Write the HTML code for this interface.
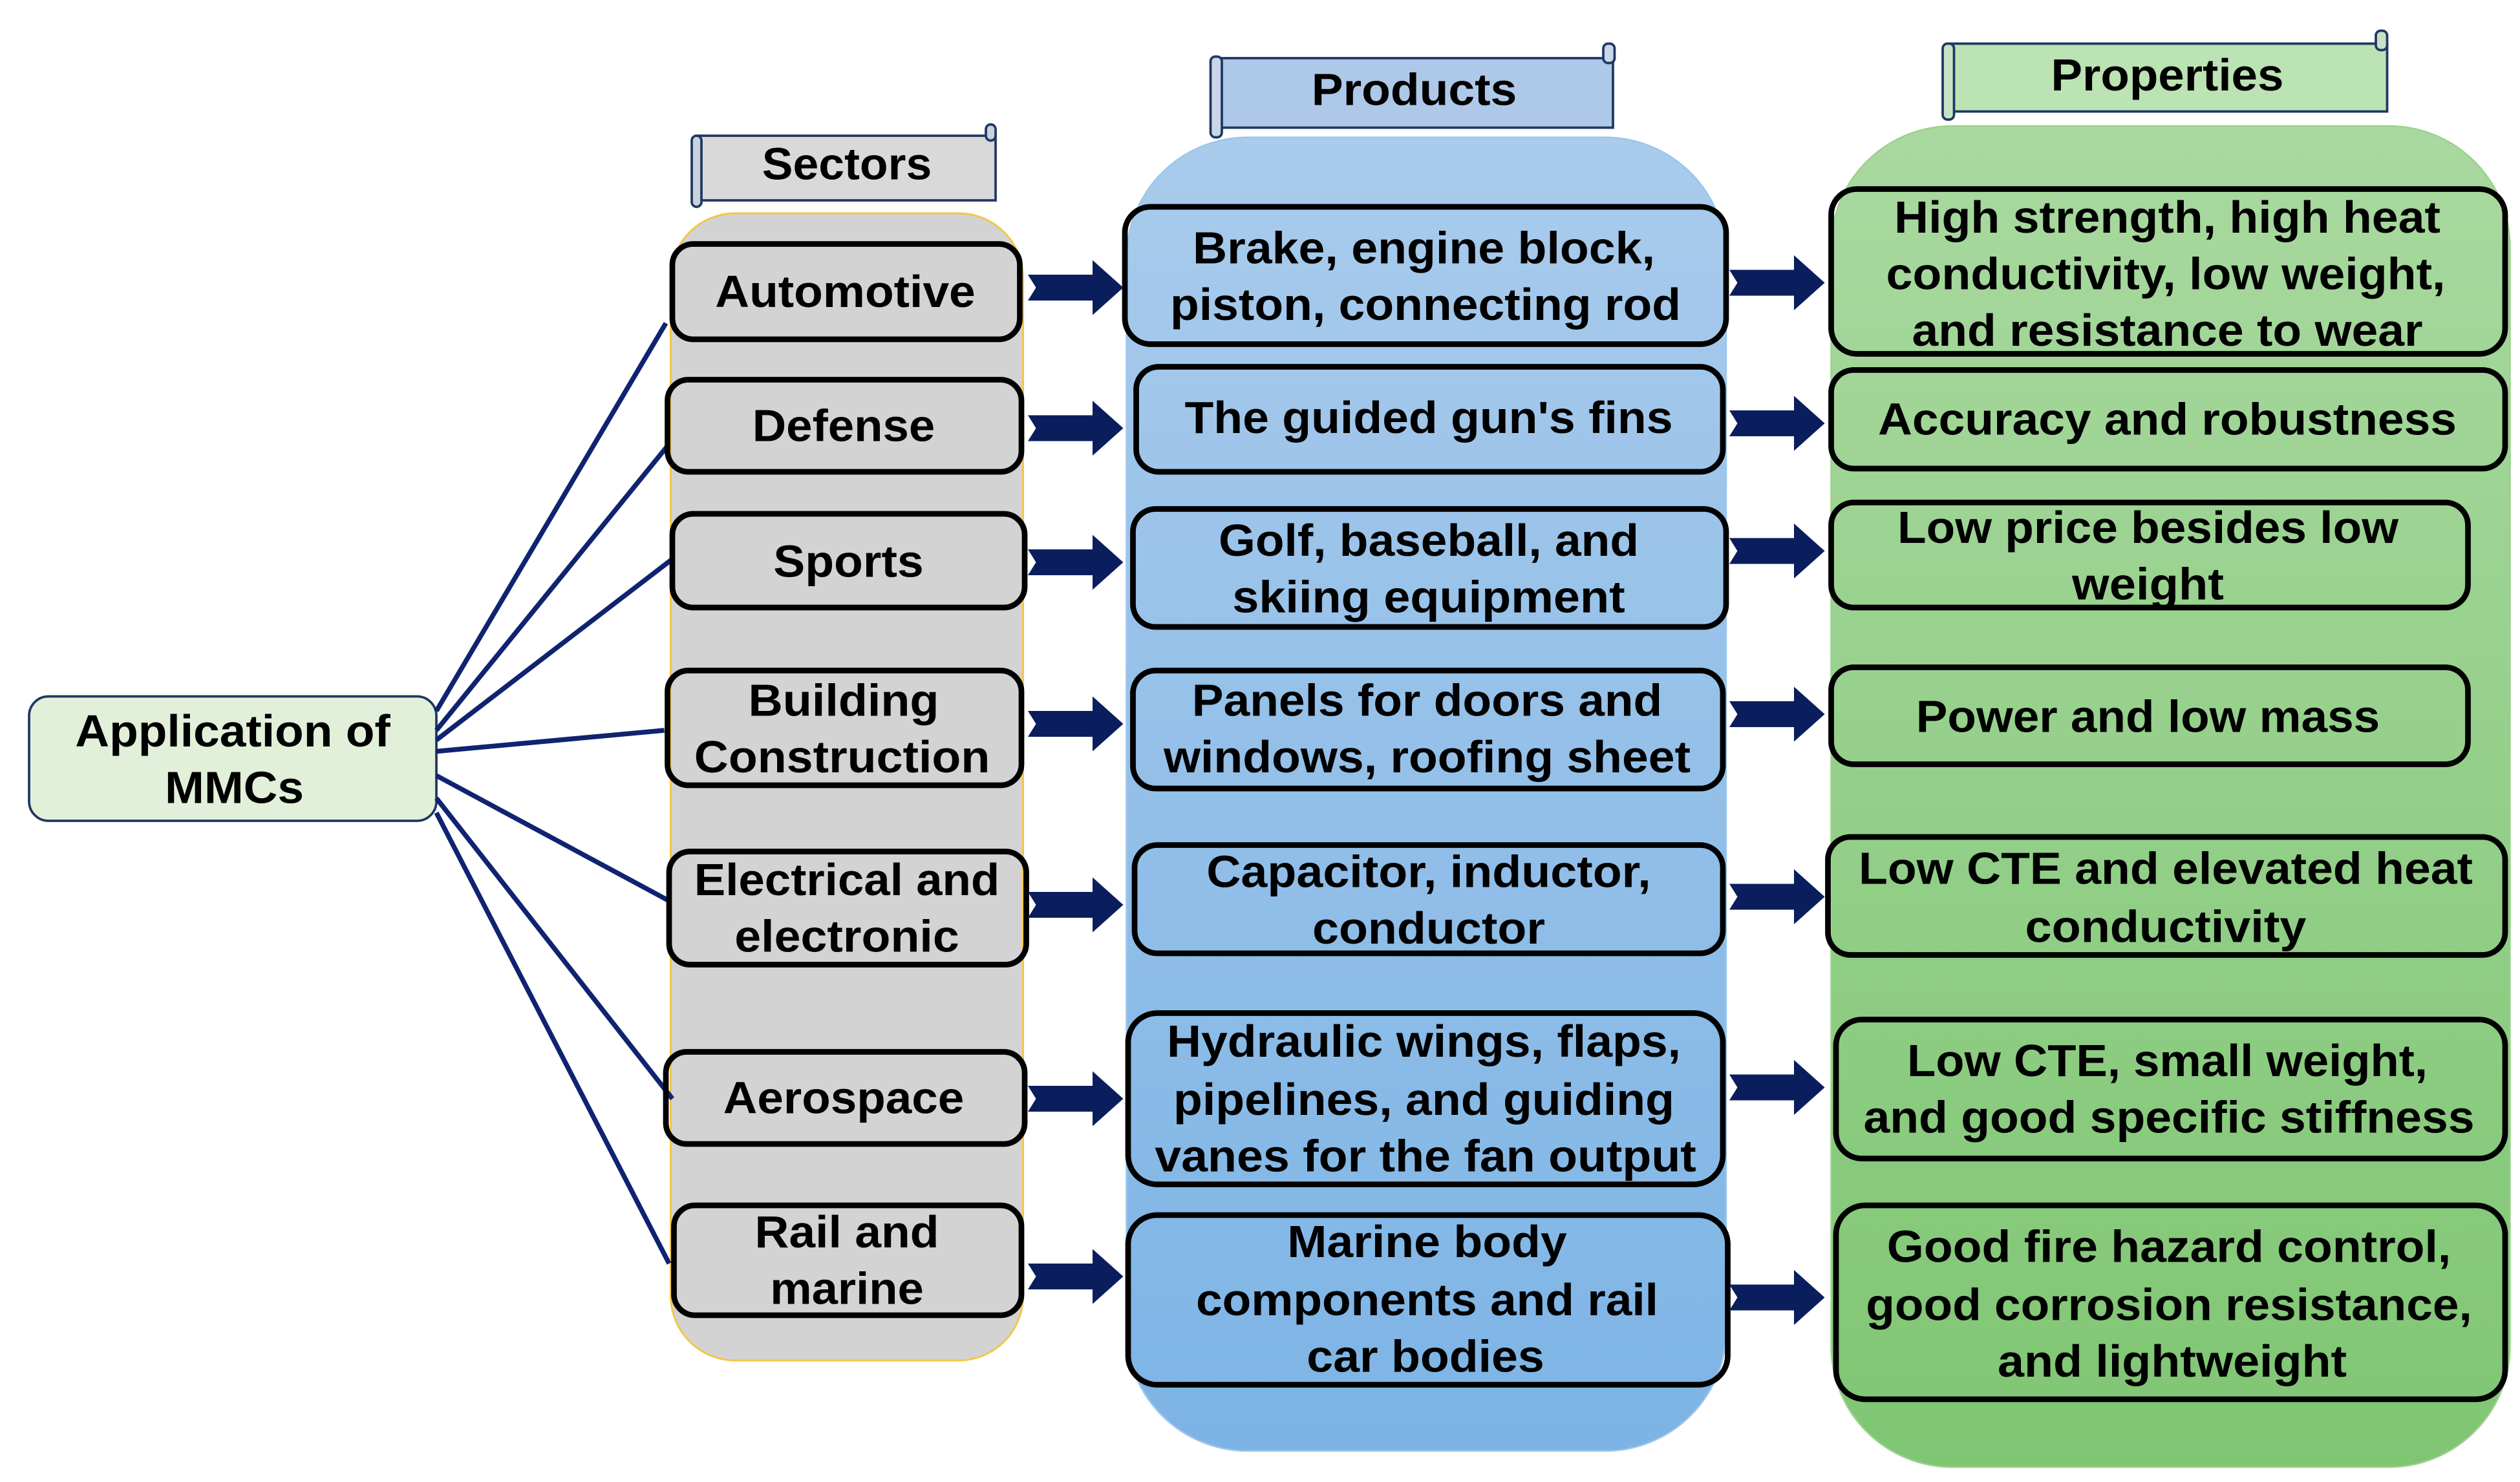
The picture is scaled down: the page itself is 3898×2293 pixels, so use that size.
<!DOCTYPE html>
<html><head><meta charset="utf-8"><style>html,body{margin:0;padding:0;background:#fff}svg{display:block}</style></head>
<body>
<svg xmlns="http://www.w3.org/2000/svg" width="3898" height="2293" viewBox="0 0 1559.2 917.2">
<defs>
<linearGradient id="gb" x1="0" y1="0" x2="0" y2="1"><stop offset="0" stop-color="#a9cbec"/><stop offset="1" stop-color="#7db4e5"/></linearGradient>
<linearGradient id="gg" x1="0" y1="0" x2="0" y2="1"><stop offset="0" stop-color="#a9d9a0"/><stop offset="1" stop-color="#7fc673"/></linearGradient>
<g id="arr"><path d="M0,-8 L40,-8 L40,-17 L59,0 L40,17 L40,8 L0,8 L5,0 Z" fill="#0a1e5e"/></g>
</defs>
<!-- columns -->
<rect x="415" y="132" width="218" height="710" rx="40" fill="#d3d3d3" stroke="#f3c64a" stroke-width="1.2"/>
<rect x="697" y="85" width="371" height="813" rx="75" fill="url(#gb)" stroke="#9cc6ea" stroke-width="1"/>
<rect x="1133" y="78" width="420" height="830" rx="75" fill="url(#gg)" stroke="#9ed08f" stroke-width="1"/>
<!-- banners -->
<g stroke="#203864" stroke-width="1.5">
<rect x="431" y="84" width="185" height="40" fill="#d9d9d9"/>
<rect x="428" y="84" width="6" height="44" rx="3" fill="#c8d2dc"/>
<rect x="610" y="77" width="6" height="10" rx="3" fill="#c8d2dc"/>
<rect x="752" y="36" width="246" height="43" fill="#aec8e8"/>
<rect x="749" y="35" width="7" height="50" rx="3" fill="#c8d6e8"/>
<rect x="992" y="27" width="7" height="12" rx="3" fill="#c8d6e8"/>
<rect x="1205" y="27" width="272" height="42" fill="#bce3b3"/>
<rect x="1202" y="27" width="7" height="47" rx="3" fill="#c8e2c4"/>
<rect x="1470" y="19" width="7" height="12" rx="3" fill="#c8e2c4"/>
</g>
<!-- root -->
<rect x="18" y="431" width="252" height="77" rx="12" fill="#e2f0d9" stroke="#203864" stroke-width="1.5"/>
<!-- connector lines -->
<g stroke="#0f2370" stroke-width="3" fill="none">
<line x1="270" y1="440" x2="412" y2="200"/>
<line x1="270" y1="452" x2="413" y2="276"/>
<line x1="270" y1="458" x2="416" y2="346"/>
<line x1="270" y1="465" x2="411" y2="452"/>
<line x1="270" y1="480" x2="413" y2="557"/>
<line x1="270" y1="494" x2="416" y2="680"/>
<line x1="270" y1="503" x2="414" y2="782"/>
</g>
<!-- boxes -->
<g fill="none" stroke="#000" stroke-width="3.5">
<rect x="416" y="151" width="215" height="59" rx="13"/>
<rect x="413" y="235" width="219" height="57" rx="13"/>
<rect x="416" y="318" width="218" height="58" rx="13"/>
<rect x="413" y="415" width="219" height="71" rx="13"/>
<rect x="414" y="527" width="221" height="70" rx="13"/>
<rect x="412" y="651" width="222" height="57" rx="13"/>
<rect x="417" y="746" width="215" height="68" rx="13"/>
<rect x="696" y="128" width="372" height="85" rx="16"/>
<rect x="703" y="227" width="363" height="65" rx="14"/>
<rect x="701" y="315" width="367" height="73" rx="14"/>
<rect x="701" y="415" width="365" height="73" rx="14"/>
<rect x="702" y="523" width="364" height="67" rx="14"/>
<rect x="698" y="627" width="368" height="106" rx="18"/>
<rect x="698" y="752" width="371" height="105" rx="18"/>
<rect x="1133" y="117" width="417" height="102" rx="16"/>
<rect x="1133" y="229" width="417" height="61" rx="14"/>
<rect x="1133" y="311" width="394" height="65" rx="14"/>
<rect x="1133" y="413" width="394" height="60" rx="14"/>
<rect x="1131" y="518" width="419" height="73" rx="14"/>
<rect x="1136" y="631" width="414" height="86" rx="16"/>
<rect x="1136" y="746" width="414" height="120" rx="18"/>
</g>
<!-- arrows -->
<use href="#arr" x="636" y="178"/><use href="#arr" x="636" y="265"/><use href="#arr" x="636" y="348"/>
<use href="#arr" x="636" y="448"/><use href="#arr" x="636" y="560"/><use href="#arr" x="636" y="680"/><use href="#arr" x="636" y="790"/>
<use href="#arr" x="1070" y="175"/><use href="#arr" x="1070" y="262"/><use href="#arr" x="1070" y="341"/>
<use href="#arr" x="1070" y="442"/><use href="#arr" x="1070" y="555"/><use href="#arr" x="1070" y="673"/><use href="#arr" x="1070" y="803"/>
<!-- text -->
<g font-family="Liberation Sans, Arial, sans-serif" font-weight="bold" font-size="28" fill="#000" text-anchor="middle" lengthAdjust="spacingAndGlyphs">
<text x="524" y="111" textLength="105" lengthAdjust="spacingAndGlyphs">Sectors</text>
<text x="875" y="65" textLength="127" lengthAdjust="spacingAndGlyphs">Products</text>
<text x="1341" y="56" textLength="144" lengthAdjust="spacingAndGlyphs">Properties</text>
<text x="144" y="462" textLength="195" lengthAdjust="spacingAndGlyphs">Application of</text>
<text x="145" y="497" textLength="86" lengthAdjust="spacingAndGlyphs">MMCs</text>

<text x="523" y="190" textLength="161" lengthAdjust="spacingAndGlyphs">Automotive</text>
<text x="522" y="273" textLength="113" lengthAdjust="spacingAndGlyphs">Defense</text>
<text x="525" y="357" textLength="93" lengthAdjust="spacingAndGlyphs">Sports</text>
<text x="522" y="443" textLength="118" lengthAdjust="spacingAndGlyphs">Building</text>
<text x="521" y="478" textLength="183" lengthAdjust="spacingAndGlyphs">Construction</text>
<text x="524" y="554" textLength="189" lengthAdjust="spacingAndGlyphs">Electrical and</text>
<text x="524" y="589" textLength="139" lengthAdjust="spacingAndGlyphs">electronic</text>
<text x="522" y="689" textLength="149" lengthAdjust="spacingAndGlyphs">Aerospace</text>
<text x="524" y="772" textLength="114" lengthAdjust="spacingAndGlyphs">Rail and</text>
<text x="524" y="807" textLength="95" lengthAdjust="spacingAndGlyphs">marine</text>

<text x="881" y="163" textLength="286" lengthAdjust="spacingAndGlyphs">Brake, engine block,</text>
<text x="882" y="198" textLength="316" lengthAdjust="spacingAndGlyphs">piston, connecting rod</text>
<text x="884" y="268" textLength="302" lengthAdjust="spacingAndGlyphs">The guided gun's fins</text>
<text x="884" y="344" textLength="260" lengthAdjust="spacingAndGlyphs">Golf, baseball, and</text>
<text x="884" y="379" textLength="243" lengthAdjust="spacingAndGlyphs">skiing equipment</text>
<text x="883" y="443" textLength="291" lengthAdjust="spacingAndGlyphs">Panels for doors and</text>
<text x="883" y="478" textLength="326" lengthAdjust="spacingAndGlyphs">windows, roofing sheet</text>
<text x="884" y="549" textLength="275" lengthAdjust="spacingAndGlyphs">Capacitor, inductor,</text>
<text x="884" y="584" textLength="144" lengthAdjust="spacingAndGlyphs">conductor</text>
<text x="881" y="654" textLength="318" lengthAdjust="spacingAndGlyphs">Hydraulic wings, flaps,</text>
<text x="881" y="690" textLength="310" lengthAdjust="spacingAndGlyphs">pipelines, and guiding</text>
<text x="882" y="725" textLength="335" lengthAdjust="spacingAndGlyphs">vanes for the fan output</text>
<text x="883" y="778" textLength="173" lengthAdjust="spacingAndGlyphs">Marine body</text>
<text x="883" y="814" textLength="286" lengthAdjust="spacingAndGlyphs">components and rail</text>
<text x="882" y="849" textLength="147" lengthAdjust="spacingAndGlyphs">car bodies</text>

<text x="1341" y="144" textLength="338" lengthAdjust="spacingAndGlyphs">High strength, high heat</text>
<text x="1340" y="179" textLength="346" lengthAdjust="spacingAndGlyphs">conductivity, low weight,</text>
<text x="1341" y="214" textLength="316" lengthAdjust="spacingAndGlyphs">and resistance to wear</text>
<text x="1341" y="269" textLength="358" lengthAdjust="spacingAndGlyphs">Accuracy and robustness</text>
<text x="1329" y="336" textLength="310" lengthAdjust="spacingAndGlyphs">Low price besides low</text>
<text x="1329" y="371" textLength="94" lengthAdjust="spacingAndGlyphs">weight</text>
<text x="1329" y="453" textLength="287" lengthAdjust="spacingAndGlyphs">Power and low mass</text>
<text x="1340" y="547" textLength="380" lengthAdjust="spacingAndGlyphs">Low CTE and elevated heat</text>
<text x="1340" y="583" textLength="174" lengthAdjust="spacingAndGlyphs">conductivity</text>
<text x="1341" y="666" textLength="322" lengthAdjust="spacingAndGlyphs">Low CTE, small weight,</text>
<text x="1342" y="701" textLength="378" lengthAdjust="spacingAndGlyphs">and good specific stiffness</text>
<text x="1342" y="781" textLength="349" lengthAdjust="spacingAndGlyphs">Good fire hazard control,</text>
<text x="1342" y="817" textLength="375" lengthAdjust="spacingAndGlyphs">good corrosion resistance,</text>
<text x="1344" y="852" textLength="216" lengthAdjust="spacingAndGlyphs">and lightweight</text>
</g>
</svg>
</body></html>
